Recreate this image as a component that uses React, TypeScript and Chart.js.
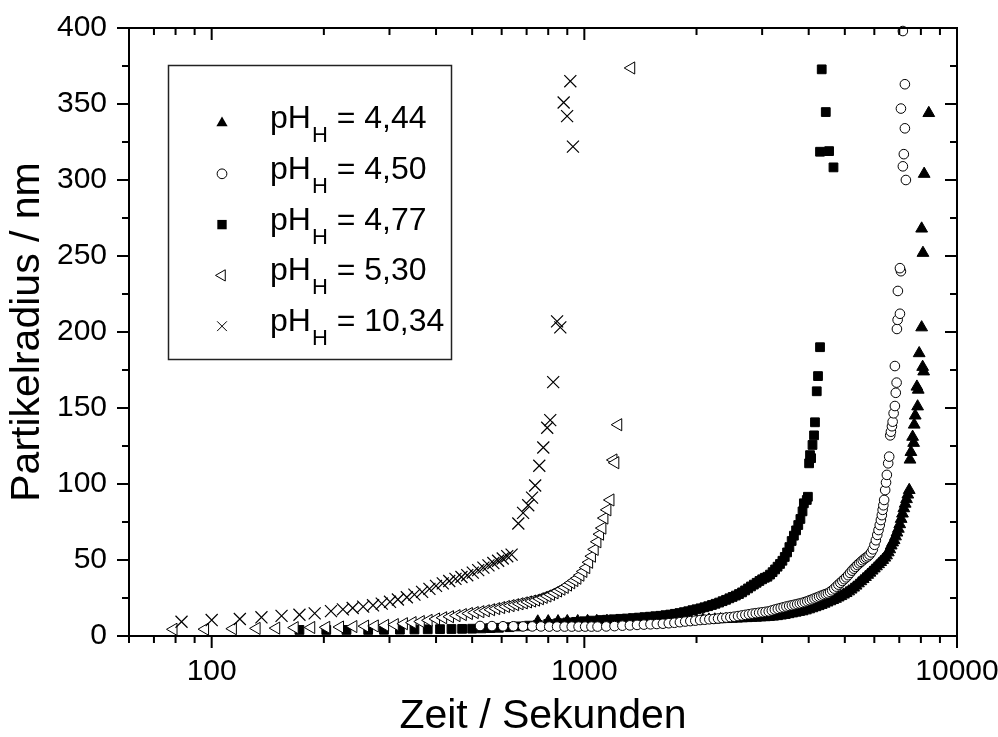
import React, { useEffect, useRef } from 'react';
import { Chart, registerables } from 'chart.js';
Chart.register(...registerables);

const FONT = "'Liberation Sans', Arial, Helvetica, sans-serif";

// pH_H = 4,44  (filled up-triangles)
const t444 = [750, 800, 850, 900, 960, 1020, 1080, 1150, 1220, 1290, 1360, 1440, 1520, 1600, 1680, 1760, 1840, 1920, 2000, 2080,
  2160, 2240, 2320, 2400, 2480, 2560, 2640, 2720, 2800, 2880, 2960, 3040, 3120, 3200, 3280, 3360, 3440, 3520, 3600, 3680,
  3760, 3840, 3920, 4000, 4080, 4160, 4240, 4320, 4400, 4480, 4560, 4640, 4720, 4800, 4880, 4960, 5040, 5120, 5200, 5280,
  5360, 5440, 5520, 5600, 5680, 5760, 5840, 5920, 6000, 6080, 6160, 6240, 6320, 6400, 6470, 6540, 6600, 6660, 6720, 6780,
  6840, 6900, 6960, 7020, 7080, 7140, 7200, 7260, 7320, 7380, 7444,
  7480, 7522, 7602, 7649, 7677, 7725, 7806, 7840, 7870, 7916, 8038, 8088, 8139, 8103, 8038, 8164, 8400];
const r444 = [9.5, 9.6, 9.6, 9.7, 9.7, 9.8, 9.8, 9.9, 9.9, 10.0, 10.0, 10.1, 10.1, 10.2, 10.2, 10.3, 10.4, 10.4, 10.5, 10.6,
  10.7, 10.8, 11.0, 11.1, 11.3, 11.4, 11.6, 11.7, 11.9, 12.0, 12.2, 12.3, 12.5, 12.7, 13.0, 13.4, 13.8, 14.3, 14.8, 15.3,
  15.8, 16.2, 16.8, 17.5, 18.2, 18.9, 19.6, 20.4, 21.2, 22.0, 22.8, 23.6, 24.4, 25.3, 26.2, 27.2, 28.2, 29.3, 30.5, 31.8,
  33.1, 34.6, 36.0, 37.4, 38.8, 40.2, 41.6, 43.0, 44.4, 45.8, 47.2, 48.6, 50.0, 51.5, 53.0, 55.0, 57.0, 59.5, 61.5, 63.0,
  65.5, 68.0, 70.5, 73.5, 77.0, 80.5, 84.0, 87.0, 90.0, 93.0, 96.0,
  116, 121, 131, 127, 139, 145, 164, 151, 162, 186, 203, 177, 174, 252, 268, 304, 344];

// pH_H = 4,50  (open circles)
const t450 = [525, 565, 605, 645, 685, 725, 765, 805, 845, 885, 925, 965, 1005, 1045, 1085,
  1145, 1205, 1265, 1325, 1385, 1445, 1505, 1565, 1625, 1685, 1745, 1805, 1865, 1925, 1985, 2045, 2105, 2165, 2225, 2285,
  2345, 2405, 2465, 2525, 2585, 2645, 2705, 2765, 2825, 2885, 2945, 3005, 3065, 3125, 3185, 3245, 3305, 3365, 3425, 3485,
  3545, 3605, 3665, 3725, 3785, 3845, 3905, 3965, 4025, 4085, 4145, 4205, 4265, 4325, 4385, 4445, 4505, 4565, 4625, 4685,
  4745, 4805, 4865, 4925, 4985, 5045,
  5105, 5165, 5225, 5285, 5345, 5405, 5465, 5525, 5585, 5645, 5705, 5765, 5825, 5885, 5945, 6005, 6057, 6110, 6158, 6205,
  6248, 6285, 6316, 6345, 6375, 6416, 6450, 6483, 6536, 6577, 6619, 6648, 6690, 6719, 6760, 6813, 6850, 6886, 6813, 6899,
  6929, 7029, 6940, 7072, 7029, 7157, 7292, 7200, 7247, 7072, 7247, 7157];
const r450 = [6.6, 6.5, 6.4, 6.4, 6.3, 6.3, 6.3, 6.2, 6.2, 6.2, 6.2, 6.2, 6.2, 6.2, 6.2,
  6.3, 6.5, 6.8, 7.0, 7.3, 7.5, 7.7, 7.9, 8.1, 8.4, 8.7, 9.1, 9.5, 9.8, 10.1, 10.5, 10.7, 11.0, 11.2, 11.5,
  11.8, 12.1, 12.4, 12.7, 13.1, 13.5, 13.9, 14.3, 14.7, 15.0, 15.3, 15.6, 15.9, 16.2, 16.8, 17.4, 17.9, 18.4, 18.9, 19.4,
  19.8, 20.2, 20.6, 21.0, 21.4, 21.8, 22.3, 22.9, 23.5, 24.1, 24.7, 25.3, 25.9, 26.5, 27.1, 27.6, 28.1, 29.0, 30.0, 31.2,
  32.5, 33.8, 35.0, 36.2, 37.4, 38.6,
  40.0, 41.5, 43.0, 44.3, 45.5, 46.7, 47.8, 48.8, 49.8, 50.8, 51.6, 52.4, 53.5, 55.0, 57.0, 60.0, 63.0, 66.5, 69.7, 73.0,
  76.3, 79.5, 83.0, 86.0, 89.5, 96.0, 101, 106, 113.6, 118, 132, 134.4, 138, 141, 146.5, 151.3, 160, 166.7, 177.6, 202,
  208, 212, 227, 240, 242, 309, 300, 317, 334, 347, 363, 398];

// pH_H = 4,77  (filled squares)
const t477 = [172, 203, 230, 263, 290, 320, 350, 380, 410, 440, 470, 500, 530, 560, 590, 630, 670, 710, 750, 800, 850, 900, 950, 1000, 1050, 1104,
  1150, 1200, 1250, 1300, 1350, 1400, 1450, 1500, 1550, 1600, 1650, 1700, 1750, 1800, 1850, 1900, 1950, 2000, 2050, 2100,
  2150, 2200, 2250, 2300, 2350, 2400, 2450, 2500, 2550, 2600, 2650, 2700, 2750, 2800, 2850, 2900, 2950, 3000, 3050, 3100,
  3150, 3200, 3250, 3300, 3350, 3400, 3450, 3500, 3550, 3600, 3650, 3700, 3750, 3800, 3850,
  3882, 3953, 3980, 4010, 4033, 4060, 4095, 4134, 4158, 4204, 4237, 4290, 4290, 4335, 4445, 4537, 4662];
const r477 = [4.0, 4.0, 4.0, 4.0, 4.1, 4.2, 4.3, 4.4, 4.5, 4.6, 4.7, 4.8, 5.0, 5.2, 5.4, 5.8, 6.3, 6.8, 7.3, 7.9, 8.4, 8.9, 9.3, 9.7, 10.1, 10.5,
  10.7, 11.0, 11.3, 11.5, 11.8, 12.1, 12.4, 12.7, 13.0, 13.3, 13.7, 14.1, 14.6, 15.1, 15.7, 16.3, 17.0, 17.6, 18.2, 18.9,
  19.6, 20.4, 21.2, 22.0, 22.9, 23.8, 24.8, 25.7, 26.6, 27.6, 28.7, 30.0, 31.3, 32.6, 33.8, 35.0, 36.2, 37.3, 38.3, 39.0,
  40.4, 42.0, 43.8, 45.6, 47.4, 49.5, 52.0, 55.0, 58.5, 62.5, 66.0, 69.5, 73.0, 77.0, 82.0,
  87.3, 89.5, 91.6, 113.6, 119, 117, 125.7, 132, 140.6, 161, 171, 190, 318.6, 372.8, 344.7, 319, 308.3];

// pH_H = 5,30  (open left-triangles)
const t530 = [79, 96, 114, 132, 149, 167, 185, 203, 221, 240, 258, 274, 292, 310, 328, 346, 364, 382, 400, 418,
  436, 454, 472, 490, 508, 526, 544, 562, 580, 598, 616, 634, 652, 670, 688, 706, 724, 742, 760, 778,
  796, 814, 832, 850, 868, 886, 904, 922, 940, 958, 976, 994, 1012, 1030, 1048, 1066, 1084, 1102, 1118, 1132,
  1153, 1175, 1197, 1211, 1233, 1336];
const r530 = [4.4, 4.5, 4.8, 5.0, 5.2, 5.5, 5.6, 5.7, 5.9, 6.2, 6.5, 6.6, 7.0, 7.5, 8.1, 8.8, 9.5, 10.3, 11.2, 12.0,
  12.7, 13.4, 14.1, 14.8, 15.4, 16.0, 16.6, 17.3, 18.0, 18.7, 19.4, 20.0, 20.6, 21.2, 21.8, 22.4, 23.0, 23.6, 24.5, 25.4,
  26.3, 27.3, 28.4, 29.6, 30.8, 32.0, 33.5, 35.0, 36.5, 38.0, 40.0, 42.5, 45.0, 48.5, 52.5, 57.0, 62.0, 67.0, 71.0, 77.6,
  83.0, 89.5, 115.8, 114.0, 139.0, 373.7];

// pH_H = 10,34  (crosses)
const t1034 = [83, 100, 119, 136, 154, 172, 189, 209, 225, 239, 255, 271, 286, 301, 316, 334, 350, 367, 384, 400,
  417, 434, 451, 468, 485, 502, 519, 536, 553, 570, 587, 604, 621, 638, 665, 685, 707, 724, 738, 757,
  776, 795, 810, 825, 845, 862, 880, 899, 917, 932];
const r1034 = [9.4, 10.5, 11.2, 12.3, 13.2, 14.0, 14.9, 16.4, 17.5, 18.4, 19.3, 20.2, 21.3, 22.5, 24.0, 25.5, 27.2, 29.0, 31.0, 33.0,
  34.6, 36.2, 37.6, 38.8, 40.0, 41.7, 43.3, 45.0, 46.5, 48.0, 49.5, 51.0, 52.5, 53.5, 74, 81, 86, 91, 99, 112,
  124, 137, 142, 167, 207, 203, 351, 342, 365, 322];

const legendValues = ['4,44', '4,50', '4,77', '5,30', '10,34'];
const legendStyles = ['tri', 'circle', 'rect', 'ltri', 'cross'];
const xTickLabels = [100, 1000, 10000];
const xMinorTicks = [60, 70, 80, 90, 200, 300, 400, 500, 600, 700, 800, 900, 2000, 3000, 4000, 5000, 6000, 7000, 8000, 9000];
const yMajorTicks = [0, 50, 100, 150, 200, 250, 300, 350, 400];
const yMinorTicks = [25, 75, 125, 175, 225, 275, 325, 375];

const pts = (t: number[], r: number[]) => t.map((x, i) => ({ x, y: r[i] }));

function drawMarker(ctx: CanvasRenderingContext2D, kind: string, x: number, y: number, s: number) {
  ctx.save();
  ctx.strokeStyle = '#000';
  ctx.fillStyle = '#000';
  ctx.lineWidth = 1;
  ctx.beginPath();
  if (kind === 'tri') {
    ctx.moveTo(x, y - s);
    ctx.lineTo(x + s * 0.866, y + s * 0.5);
    ctx.lineTo(x - s * 0.866, y + s * 0.5);
    ctx.closePath();
    ctx.fill();
  } else if (kind === 'circle') {
    ctx.arc(x, y, s * 0.75, 0, Math.PI * 2);
    ctx.fillStyle = '#fff';
    ctx.fill();
    ctx.stroke();
  } else if (kind === 'rect') {
    const h = s * 0.72;
    ctx.rect(x - h, y - h, 2 * h, 2 * h);
    ctx.fill();
  } else if (kind === 'ltri') {
    ctx.moveTo(x - s, y);
    ctx.lineTo(x + s * 0.5, y - s * 0.866);
    ctx.lineTo(x + s * 0.5, y + s * 0.866);
    ctx.closePath();
    ctx.fillStyle = '#fff';
    ctx.fill();
    ctx.stroke();
  } else {
    const h = s * 0.75;
    ctx.moveTo(x - h, y - h);
    ctx.lineTo(x + h, y + h);
    ctx.moveTo(x + h, y - h);
    ctx.lineTo(x - h, y + h);
    ctx.stroke();
  }
  ctx.restore();
}

const framePlugin = {
  id: 'frameTicksLegend',
  afterDatasetsDraw(chart: any) {
    const { ctx, chartArea: a, scales } = chart;
    const xs = scales.x;
    const ys = scales.y;
    ctx.save();
    ctx.strokeStyle = '#000';
    ctx.lineWidth = 2;
    ctx.strokeRect(a.left, a.top, a.right - a.left, a.bottom - a.top);
    const MAJ = 12;
    const MIN = 7;
    ctx.beginPath();
    yMajorTicks.forEach((v) => {
      const p = ys.getPixelForValue(v);
      ctx.moveTo(a.left - MAJ, p); ctx.lineTo(a.left, p);
      ctx.moveTo(a.right, p); ctx.lineTo(a.right - MAJ, p);
    });
    yMinorTicks.forEach((v) => {
      const p = ys.getPixelForValue(v);
      ctx.moveTo(a.left - MIN, p); ctx.lineTo(a.left, p);
      ctx.moveTo(a.right, p); ctx.lineTo(a.right - MIN, p);
    });
    xTickLabels.forEach((v) => {
      const p = xs.getPixelForValue(v);
      ctx.moveTo(p, a.bottom); ctx.lineTo(p, a.bottom + MAJ);
      ctx.moveTo(p, a.top); ctx.lineTo(p, a.top + MAJ);
    });
    xMinorTicks.forEach((v) => {
      const p = xs.getPixelForValue(v);
      ctx.moveTo(p, a.bottom); ctx.lineTo(p, a.bottom + MIN);
      ctx.moveTo(p, a.top); ctx.lineTo(p, a.top + MIN);
    });
    ctx.stroke();

    // legend
    const bx = 168, by = 65, bw = 283, bh = 294;
    ctx.fillStyle = '#fff';
    ctx.fillRect(bx, by, bw, bh);
    ctx.lineWidth = 1.5;
    ctx.strokeStyle = '#222';
    ctx.strokeRect(bx + 0.5, by + 0.5, bw, bh);
    ctx.fillStyle = '#000';
    ctx.textBaseline = 'alphabetic';
    ctx.textAlign = 'left';
    legendValues.forEach((val, i) => {
      const rowY = 117 + i * 50.8;
      drawMarker(ctx, legendStyles[i], 222, rowY + 6, 6.5);
      const base = rowY + 11;
      ctx.font = `32px ${FONT}`;
      ctx.fillText('pH', 270, base);
      const w1 = ctx.measureText('pH').width;
      ctx.font = `22px ${FONT}`;
      ctx.fillText('H', 270 + w1 + 1, base + 14);
      const w2 = ctx.measureText('H').width;
      ctx.font = `32px ${FONT}`;
      ctx.fillText(' = ' + val, 270 + w1 + 1 + w2, base);
    });
    ctx.restore();
  },
};

export default function App() {
  const ref = useRef<HTMLCanvasElement | null>(null);
  useEffect(() => {
    if (!ref.current) return;
    const common = { showLine: false, clip: false as any, borderColor: '#000' };
    const chart = new Chart(ref.current, {
      type: 'scatter',
      data: {
        datasets: [
          { ...common, label: 'pH 4,44', data: pts(t444, r444), pointStyle: 'triangle', pointRadius: 6.8, backgroundColor: '#000', borderWidth: 1, order: 5 },
          { ...common, label: 'pH 4,50', data: pts(t450, r450), pointStyle: 'circle', pointRadius: 4.8, backgroundColor: '#fff', borderWidth: 1, order: 2 },
          { ...common, label: 'pH 4,77', data: pts(t477, r477), pointStyle: 'rect', pointRadius: 6.2, backgroundColor: '#000', borderWidth: 1, order: 4 },
          { ...common, label: 'pH 5,30', data: pts(t530, r530), pointStyle: 'triangle', rotation: -90, pointRadius: 7, backgroundColor: '#fff', borderWidth: 1, order: 1 },
          { ...common, label: 'pH 10,34', data: pts(t1034, r1034), pointStyle: 'crossRot', pointRadius: 8.5, backgroundColor: '#000', borderWidth: 1.2, order: 0 },
        ] as any,
      },
      options: {
        responsive: false,
        animation: false,
        devicePixelRatio: 1,
        layout: { padding: { left: 0, right: 41, top: 28, bottom: 0 } },
        plugins: { legend: { display: false }, tooltip: { enabled: false } },
        scales: {
          x: {
            type: 'logarithmic',
            min: 60,
            max: 10000,
            grid: { display: false },
            border: { display: false },
            afterBuildTicks: (s: any) => { s.ticks = xTickLabels.map((v) => ({ value: v })); },
            afterFit: (s: any) => { s.height = 101; s.paddingLeft = 0; s.paddingRight = 0; },
            ticks: {
              autoSkip: false, maxRotation: 0, minRotation: 0, padding: 10, color: '#000',
              font: { family: FONT, size: 30 },
              callback: (v: any) => String(v),
            },
            title: { display: true, text: 'Zeit / Sekunden', color: '#000', font: { family: FONT, size: 41, lineHeight: 1 }, padding: { top: 0, bottom: 0 } },
          },
          y: {
            type: 'linear',
            min: 0,
            max: 400,
            grid: { display: false },
            border: { display: false },
            afterFit: (s: any) => { s.width = 129; s.paddingTop = 0; s.paddingBottom = 0; },
            ticks: { stepSize: 50, padding: 14, color: '#000', font: { family: FONT, size: 30 } },
            title: { display: true, text: 'Partikelradius / nm', color: '#000', font: { family: FONT, size: 41, lineHeight: 1 }, padding: { top: 7, bottom: 0 } },
          },
        },
      } as any,
      plugins: [framePlugin as any],
    });
    return () => chart.destroy();
  }, []);
  return (
    <div style={{ position: 'absolute', left: 0, top: 0, width: 998, height: 737, background: '#fff' }}>
      <canvas ref={ref} width={998} height={737} style={{ width: 998, height: 737, display: 'block' }} />
    </div>
  );
}
